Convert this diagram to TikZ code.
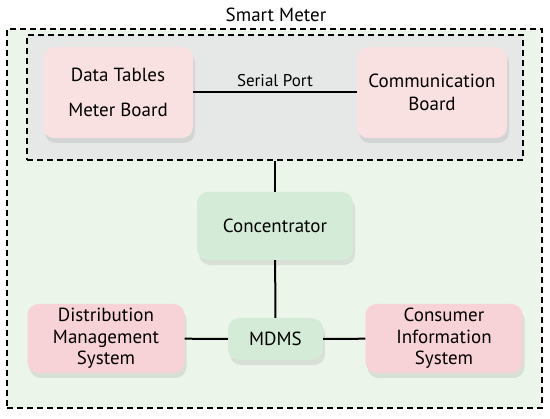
\documentclass[tikz,border=0pt]{standalone}
\usepackage{fontspec}
\setmainfont{PT Sans}
\usepackage{tikz}
\usetikzlibrary{shadows}

\definecolor{meterbg}{HTML}{ECF5E9}
\definecolor{boardbg}{HTML}{E6E8E8}
\definecolor{lightpink}{HTML}{F9E1E1}
\definecolor{darkpink}{HTML}{F7D2D6}
\definecolor{softgreen}{HTML}{D3EBD7}

\begin{document}
\begin{tikzpicture}
 [x=1pt, y=-1pt,
  dashed box/.style={draw, line width=1.2pt, dash pattern=on 6pt off 4pt},
  board node/.style={rounded corners=11pt, fill=lightpink, align=center,
    drop shadow={shadow xshift=2pt, shadow yshift=-5pt, opacity=0.18},
    minimum width=150pt, minimum height=91pt, font=\fontsize{19}{23}\selectfont},
  system node/.style={board node, fill=darkpink, minimum width=157pt, minimum height=69pt},
  green node/.style={board node, fill=softgreen}]

\useasboundingbox (0,0) rectangle (550,419);

\node (title) at (276,15) {\fontsize{19}{23}\selectfont Smart Meter};
\node[dashed box, fill=meterbg, minimum width=535pt, minimum height=379pt] (meter) at (274.5,218.5) {};
\node[dashed box, fill=boardbg, minimum width=496pt, minimum height=125pt] (boards) at (275,97.5) {};

\node[board node] (data) at (118,92.5) {Data Tables\\[12pt]Meter Board};
\node[board node] (comm) at (432,92.5) {Communication\\Board};

\node[green node, minimum width=156pt, minimum height=68pt] (conc) at (275,226) {Concentrator};
\node[green node, minimum width=95pt, minimum height=42pt] (mdms) at (275.5,339) {MDMS};

\node[system node] (dist) at (106,338.5) {Distribution\\[-1.5pt]Management\\[-1.5pt]System};
\node[system node] (cons) at (444,338.5) {Consumer\\[-1.5pt]Information\\[-1.5pt]System};

\path
  (data) edge [line width=2pt] node [above=1pt, font=\fontsize{17}{20}\selectfont] {Serial Port} (comm)
  (boards) edge [line width=2pt] (conc)
  (conc) edge [line width=2pt] (mdms)
  (mdms) edge [line width=2pt] (dist)
  (mdms) edge [line width=2pt] (cons);

\end{tikzpicture}
\end{document}
